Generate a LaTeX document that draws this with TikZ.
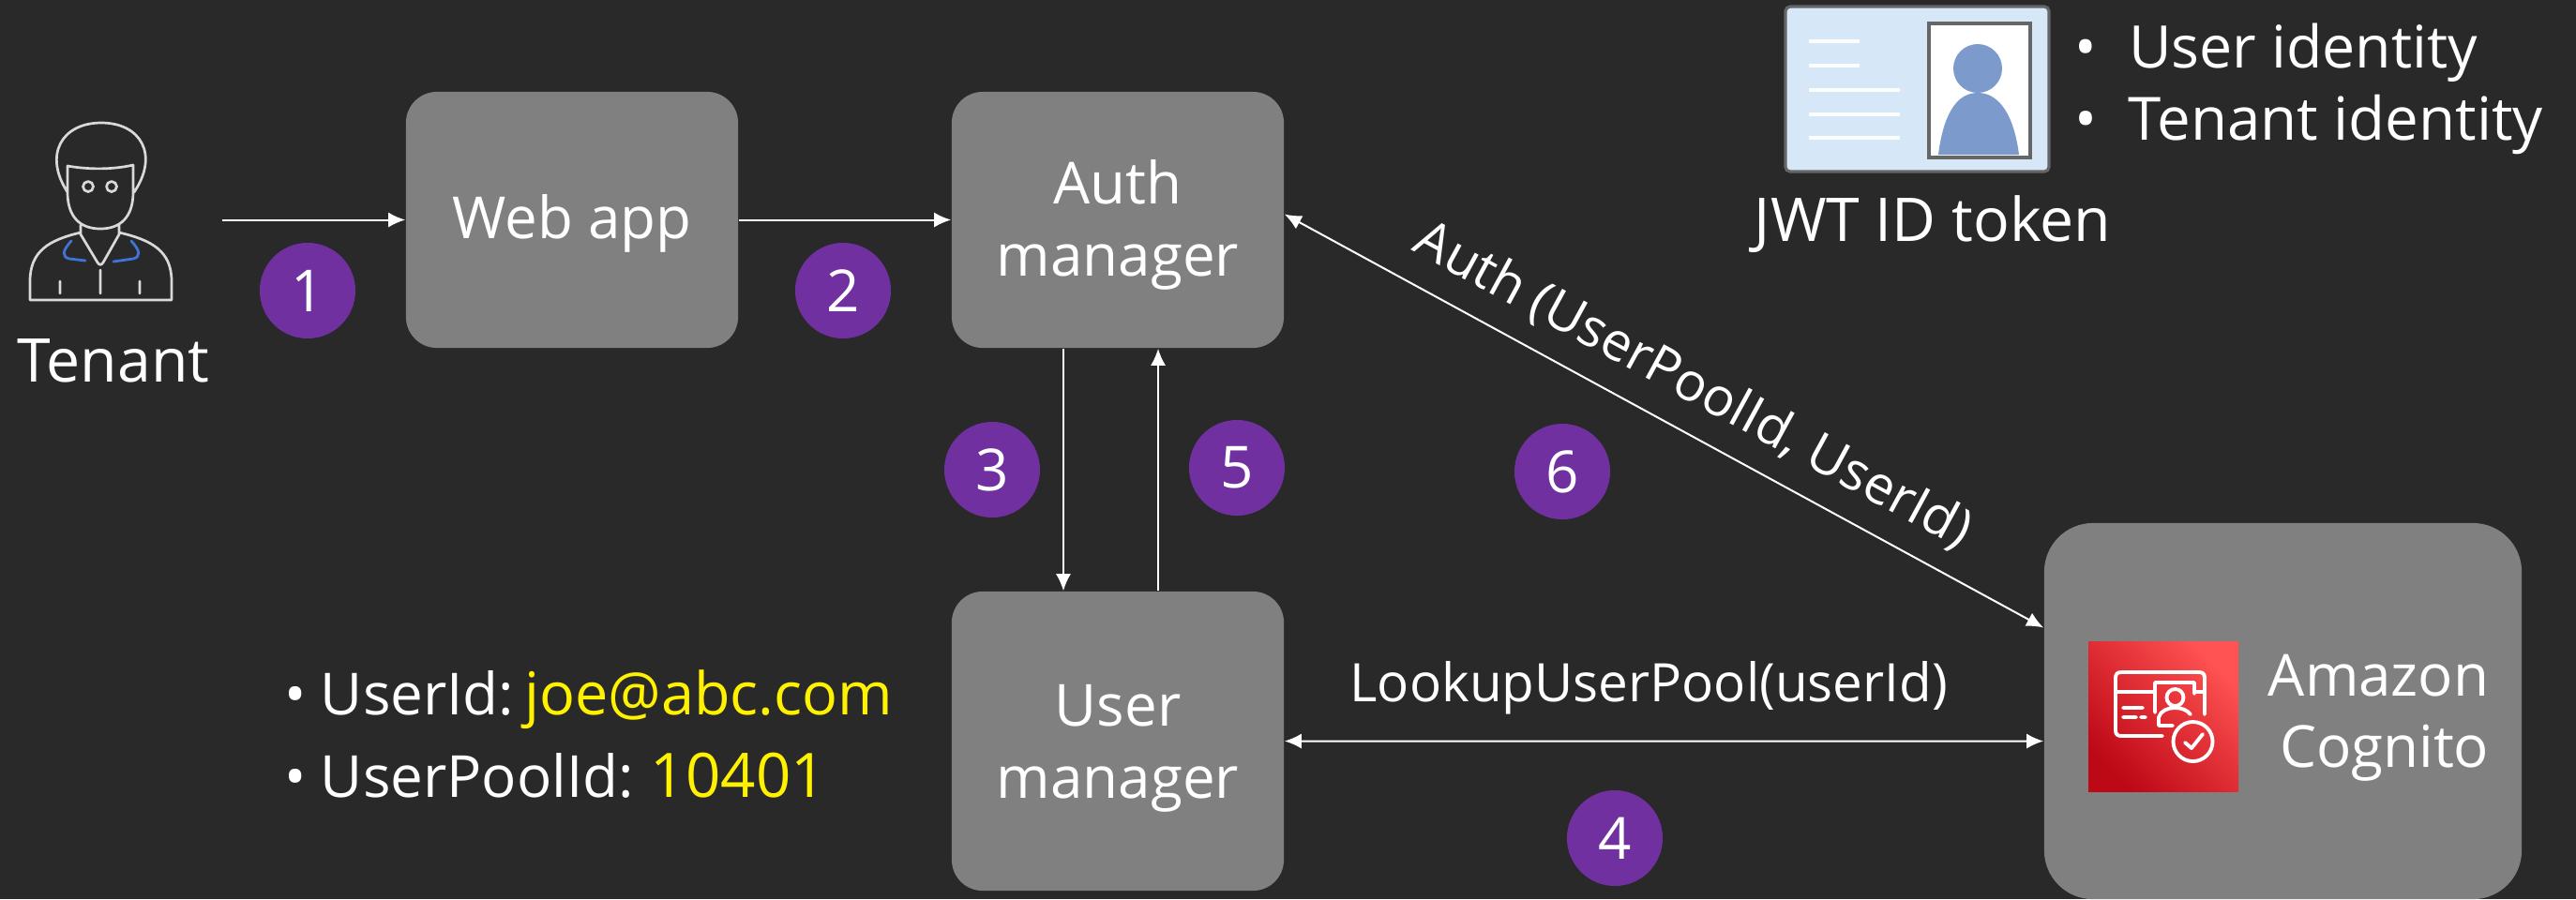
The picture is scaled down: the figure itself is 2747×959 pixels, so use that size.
\documentclass[tikz,border=0pt]{standalone}
\usepackage{fontspec}
\setmainfont{Open Sans}
\usetikzlibrary{arrows.meta}
\definecolor{slidebg}{HTML}{292929}
\definecolor{boxgray}{HTML}{808080}
\definecolor{steppurple}{HTML}{7030A0}
\definecolor{cardblue}{HTML}{D6E8F7}
\definecolor{headblue}{HTML}{7C9ACC}
\definecolor{collarblue}{HTML}{3F74D6}
\definecolor{iconlow}{HTML}{BD0816}
\definecolor{iconhigh}{HTML}{FF5252}
\newcommand{\dropline}[1]{\rule{0pt}{#1}}
\newcommand{\bigfont}{\fontsize{18.3}{22}\selectfont}
\tikzset{
    slidetext/.style={text=white, font=\fontsize{17.6}{21.9}\selectfont, inner sep=0pt},
    edgetext/.style={text=white, font=\fontsize{16.1}{20}\selectfont, inner sep=0pt},
    servicebox/.style={fill=boxgray, rounded corners=0.33cm, minimum width=3.54cm, minimum height=2.73cm, align=center, slidetext},
    stepdot/.style={circle, fill=steppurple, minimum size=1.02cm, text=white, font=\fontsize{17.6}{21.9}\selectfont, inner sep=0pt},
    flowline/.style={draw=white, line width=0.57pt, -{Latex[length=0.18cm,width=0.16cm]}},
    bothline/.style={draw=white, line width=0.57pt, {Latex[length=0.18cm,width=0.16cm]}-{Latex[length=0.18cm,width=0.16cm]}},
    iconline/.style={draw=white, line width=1.1pt, line cap=round, line join=round}
}
\begin{document}
\begin{tikzpicture}[x=0.01cm,y=-0.01cm]
    \fill[slidebg] (0,0) rectangle (2747,959);
    \useasboundingbox (0,0) rectangle (2747,959);
    % Boxes
    \node[servicebox] (web) at (610,234.5) {\dropline{0.54cm}Web app};
    \node[servicebox] (auth) at (1192,234.5) {\dropline{0.57cm}Auth\\manager};
    \node[servicebox, minimum height=3.19cm] (user) at (1192,790.5) {\dropline{0.6cm}User\\manager};
    \node[fill=boxgray, rounded corners=0.52cm, minimum width=5.09cm, minimum height=4.01cm] (cognito) at (2434.5,758.5) {};
    % Tenant icon
    \draw[draw=white!85!black, line width=0.77pt, line cap=round, line join=round]
        (72,205) .. controls (46,165) and (66,131) .. (108,131) .. controls (150,131) and (170,165) .. (143,205)
        (72,177) .. controls (95,181) and (120,181) .. (142,176) -- (142,205)
        .. controls (142,232) and (128,244) .. (107,244) .. controls (86,244) and (72,232) .. (72,205) -- cycle
        (86,240) -- (86,250) -- (104,280) .. controls (106,283) and (108,283) .. (110,280) -- (127,250) -- (127,240)
        (86,248) .. controls (52,256) and (32,268) .. (32,300) -- (32,320) -- (183,320) -- (183,300) .. controls (183,268) and (162,256) .. (127,248)
        (107,288) -- (107,313) (64,300) -- (64,313) (149,300) -- (149,313)
        (94,199) circle (5.5) (119,199) circle (5.5);
    \draw[collarblue, line width=0.8pt, line cap=round]
        (76,257) .. controls (66,268) and (66,274) .. (74,276) -- (91,278)
        (140,257) .. controls (150,268) and (150,274) .. (142,276) -- (121,279);
    \node[slidetext, font=\bigfont, anchor=base] (tenant) at (121,407) {Tenant};
    \coordinate (tenantout) at (237,234.5);
    % Token card
    \draw[draw=white!40!black, fill=cardblue, line width=0.9pt, rounded corners=0.05cm] (1904,7) rectangle (2185,183);
    \foreach \ly/\lx in {44/1983,70/1983,96/2026,122/2026,147/2026}
        \draw[white!92!cardblue, line width=1pt] (1929,\ly) -- (\lx,\ly);
    \draw[draw=white!40!black, fill=white, line width=0.9pt] (2057,25) rectangle (2165,168);
    \fill[headblue] (2109,73) ellipse (26 and 26);
    \fill[headblue] (2067,165) .. controls (2072,125) and (2085,99) .. (2109,99) .. controls (2133,99) and (2148,125) .. (2153,165) -- cycle;
    \node[slidetext, font=\fontsize{17.8}{22}\selectfont, anchor=base west] (useridn) at (2212,72) {•\hspace{0.34cm}User identity};
    \node[slidetext, font=\fontsize{18.1}{22}\selectfont, anchor=base west] (tenantidn) at (2212,149) {•\hspace{0.33cm}Tenant identity};
    \node[slidetext, font=\bigfont, anchor=base] (jwt) at (2061,257) {JWT ID token};
    % Cognito icon
    \shade[bottom color=iconlow, top color=iconhigh, shading angle=-45] (2227,684) rectangle (2387,844);
    \draw[iconline] (2306,785) -- (2262,785) .. controls (2258,785) and (2256,783) .. (2256,779) -- (2256,723) .. controls (2256,719) and (2258,717) .. (2262,717) -- (2345,717) .. controls (2349,717) and (2351,719) .. (2351,723) -- (2351,762)
        (2256,738) -- (2298,738) (2340,738) -- (2351,738)
        (2264,755) -- (2285,755) (2264,765) -- (2278,765) (2283,765) -- (2288,765)
        (2298,760) -- (2298,728) -- (2340,728) -- (2340,740)
        (2302,774) -- (2317,774) (2302,774) -- (2302,765) .. controls (2304,758) and (2312,755) .. (2319,755) .. controls (2326,755) and (2332,757) .. (2336,762)
        (2319.5,744) circle (9) (2338.5,791) circle (21)
        (2330,792) -- (2337,798) -- (2349,783);
    \node[slidetext, anchor=base east] (cogtxta) at (2655,742) {Amazon};
    \node[slidetext, anchor=base east] (cogtxtb) at (2655,818) {Cognito};
    % Lookup values
    \node[slidetext, anchor=base west] (uidn) at (303,762) {•\hspace{0.15cm}UserId:\hspace{0.11cm}\textcolor{yellow}{\fontsize{17.9}{22}\selectfont joe@abc.com}};
    \node[slidetext, anchor=base west] (upidn) at (303,850) {•\hspace{0.15cm}UserPoolId:\hspace{0.18cm}\textcolor{yellow}{\fontsize{18.6}{22}\selectfont 10401}};
    % Connectors
    \draw[flowline] (tenantout) -- (web.west);
    \draw[flowline] (web.east) -- (auth.west);
    \draw[flowline] ([xshift=-0.58cm]auth.south) -- ([xshift=-0.58cm]user.north);
    \draw[flowline] ([xshift=0.43cm]user.north) -- ([xshift=0.43cm]auth.south);
    \draw[bothline] ([yshift=0.06cm]auth.east) -- ([yshift=0.89cm]cognito.west)
        node[pos=0.51, sloped, above=0.21cm, edgetext] (authlabel) {Auth (UserPoolId, UserId)};
    \draw[bothline] (user.east) -- ([yshift=-0.32cm]cognito.west)
        node[pos=0.48, above=0.27cm, edgetext] (lookuplabel) {LookupUserPool(userId)};
    % Step numbers
    \node[stepdot] (stepa) at (328,310) {1};
    \node[stepdot] (stepb) at (899,310) {2};
    \node[stepdot] (stepc) at (1058,501) {3};
    \node[stepdot] (stepd) at (1722,894) {4};
    \node[stepdot] (stepe) at (1319,499) {5};
    \node[stepdot] (stepf) at (1666,503) {6};
\end{tikzpicture}
\end{document}
